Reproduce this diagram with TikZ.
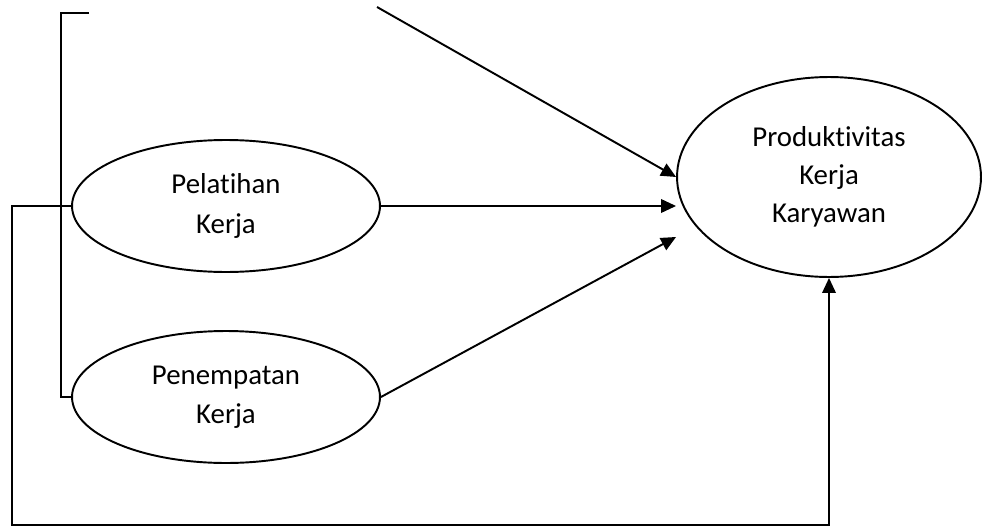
\documentclass[tikz,border=0pt]{standalone}
\usepackage{fontspec}
\setmainfont{Carlito}[Ligatures=NoCommon]
\usetikzlibrary{shapes.geometric, arrows.meta}

\begin{document}
\begin{tikzpicture}[
    x=0.02cm, y=-0.02cm,
    var/.style={
        draw, ellipse, line width=1.1pt, inner sep=0pt,
        minimum width=6.16cm, minimum height=2.64cm,
        font=\fontsize{16.4}{22.5}\selectfont, align=center,
    },
    arr/.style={-{Triangle[length=0.3cm, width=0.27cm]}, line width=1.1pt},
    ln/.style={line width=1.1pt},
]
\useasboundingbox (0,0) rectangle (982,527);

% ── Variables ──
\node[var] (pel) at (226, 206) {Pelatihan\\Kerja};
\node[var] (pen) at (226, 397) {Penempatan\\Kerja};
\node[var, minimum width=6.08cm, minimum height=4cm,
      font=\fontsize{16.4}{21.6}\selectfont] (prod) at (829, 177)
    {Produktivitas\\Kerja\\Karyawan};

% ── Free ends ──
\coordinate (topstart) at (377, 7);
\coordinate (tick) at (89, 13);
\coordinate (loopcorner) at (12, 525);

% ── Bracket ──
\draw[ln] (tick) -- (61, 13) |- (pen.west);

% ── Arrows into Produktivitas ──
\draw[arr] (topstart) -- (prod.west);
\draw[arr] (pel.east) -- ([yshift=-0.58cm]prod.west);
\draw[arr] (pen.east) -- ([yshift=-1.2cm]prod.west);

% ── Outer loop ──
\draw[arr] (pel.west) -- (12, 206) -- (loopcorner) -| (prod.south);

\end{tikzpicture}
\end{document}
